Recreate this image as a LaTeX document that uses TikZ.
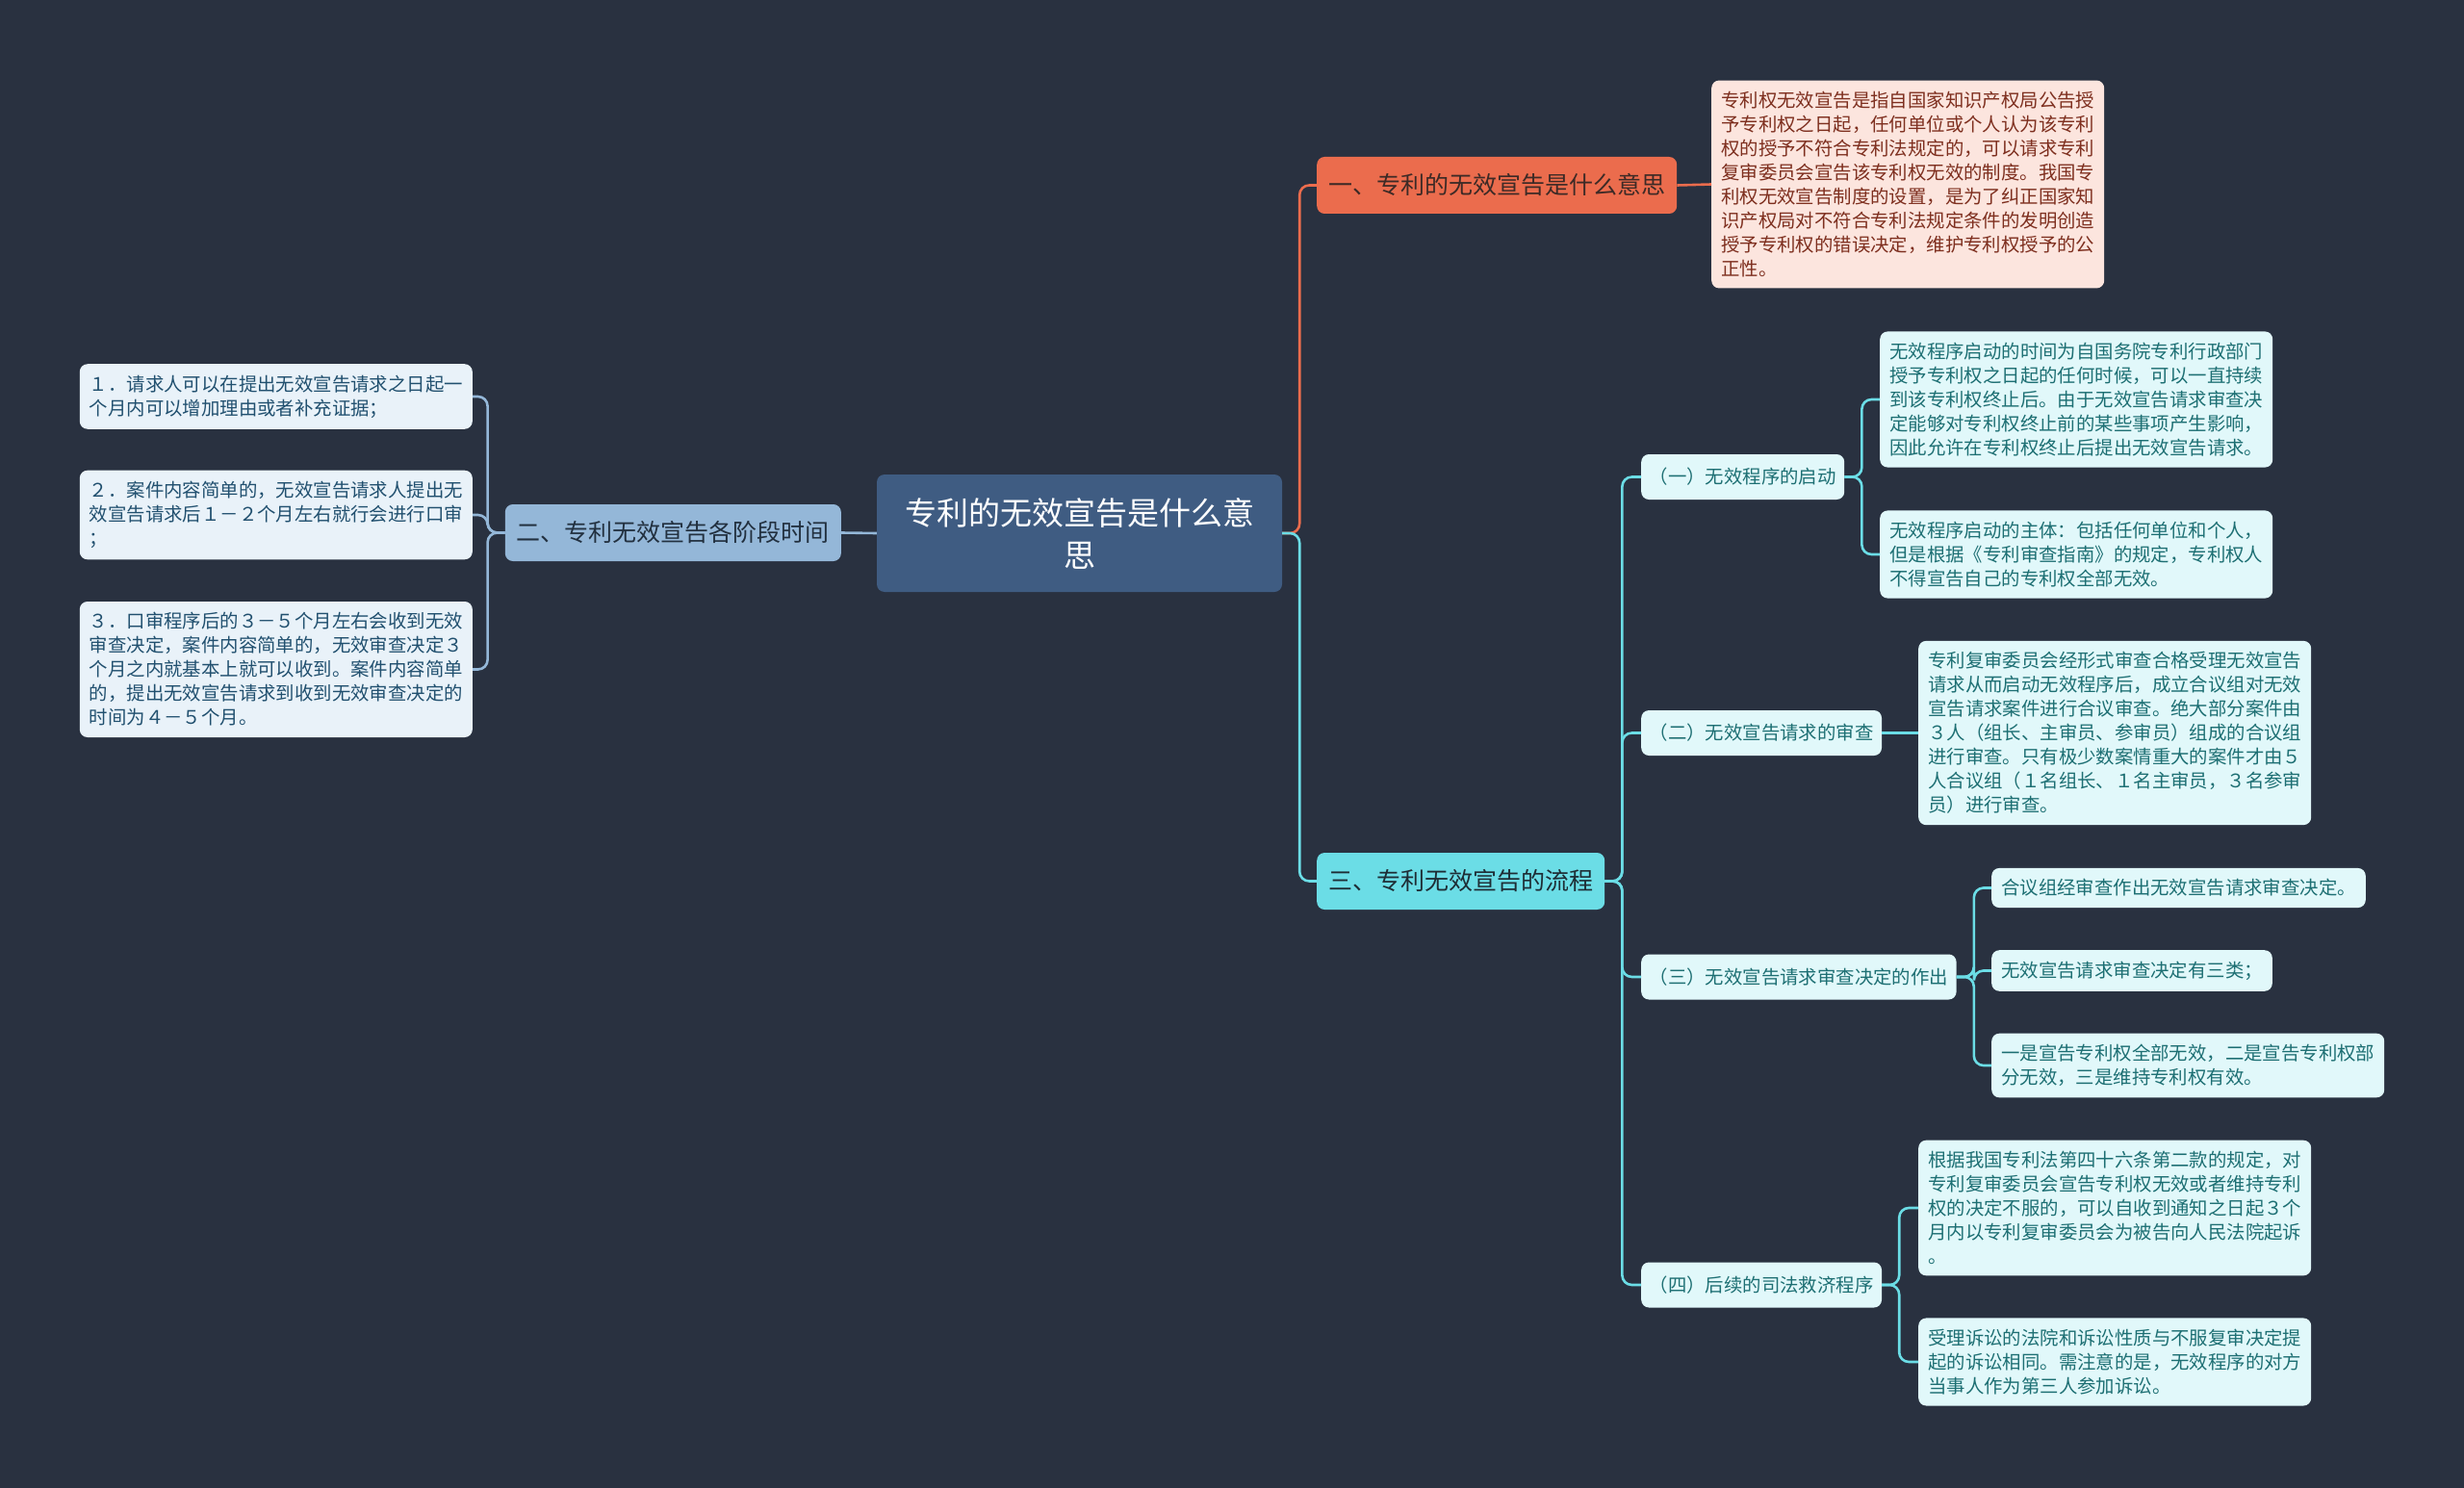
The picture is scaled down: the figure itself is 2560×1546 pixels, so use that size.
\documentclass[tikz,border=0pt]{standalone}
\usepackage{fontspec}
\newfontfamily\cjk{Noto Sans CJK SC}
\usepackage{tikz}
\usepackage{xcolor}
\definecolor{bgcolor}{HTML}{293140}
\definecolor{rootfill}{HTML}{3F5C82}
\definecolor{redfill}{HTML}{EB6C4D}
\definecolor{redtext}{HTML}{3D2A26}
\definecolor{pinkleaf}{HTML}{FCE5DE}
\definecolor{pinktext}{HTML}{7E2F1F}
\definecolor{bluefill}{HTML}{94B7D8}
\definecolor{bluetext}{HTML}{22303F}
\definecolor{blueleaf}{HTML}{E9F2F9}
\definecolor{blueleaftext}{HTML}{21506F}
\definecolor{cyanfill}{HTML}{6BDDE6}
\definecolor{cyandark}{HTML}{1E2D35}
\definecolor{cyanleaf}{HTML}{E1F8FA}
\definecolor{cyantext}{HTML}{1D6F73}

\begin{document}
\begin{tikzpicture}[x=1pt, y=-1pt,
    base/.style={rounded corners=8pt, align=left, font=\cjk\fontsize{19.4}{25}\selectfont},
    rootbox/.style={base, fill=rootfill, text=white, align=center, minimum width=421pt, minimum height=122pt, font=\cjk\fontsize{33}{44}\selectfont},
    topicbox/.style={base, inner xsep=12pt, minimum height=59pt, font=\cjk\fontsize{25}{30}\selectfont},
    subbox/.style={base, fill=cyanleaf, text=cyantext, inner xsep=8.5pt, minimum height=47pt},
    leafbox/.style={base, inner xsep=10pt, inner ysep=11.5pt},
    link/.style={line width=2.6pt, rounded corners=10pt}]
        % Fundo
        \useasboundingbox (0,0) rectangle (2560,1546);
        \fill[bgcolor] (0,0) rectangle (2560,1546);

        % Tema central
        \node[rootbox] (raiz) at (1121.5,554) {专利的无效宣告是什么意\\思};

        % Ramo um
        \node[topicbox, fill=redfill, text=redtext, anchor=west] (t1) at (1368,192.5) {一、专利的无效宣告是什么意思};
        \node[leafbox, fill=pinkleaf, text=pinktext, anchor=west] (t1a) at (1778,191.5) {专利权无效宣告是指自国家知识产权局公告授\\予专利权之日起，任何单位或个人认为该专利\\权的授予不符合专利法规定的，可以请求专利\\复审委员会宣告该专利权无效的制度。我国专\\利权无效宣告制度的设置，是为了纠正国家知\\识产权局对不符合专利法规定条件的发明创造\\授予专利权的错误决定，维护专利权授予的公\\正性。};

        % Ramo dois
        \node[topicbox, fill=bluefill, text=bluetext, anchor=east] (t2) at (874,553.5) {二、专利无效宣告各阶段时间};
        \node[leafbox, fill=blueleaf, text=blueleaftext, anchor=east] (l1) at (491,412) {１．请求人可以在提出无效宣告请求之日起一\\个月内可以增加理由或者补充证据；};
        \node[leafbox, fill=blueleaf, text=blueleaftext, anchor=east] (l2) at (491,535) {２．案件内容简单的，无效宣告请求人提出无\\效宣告请求后１－２个月左右就行会进行口审\\；};
        \node[leafbox, fill=blueleaf, text=blueleaftext, anchor=east] (l3) at (491,695.5) {３．口审程序后的３－５个月左右会收到无效\\审查决定，案件内容简单的，无效审查决定３\\个月之内就基本上就可以收到。案件内容简单\\的，提出无效宣告请求到收到无效审查决定的\\时间为４－５个月。};

        % Ramo tres
        \node[topicbox, fill=cyanfill, text=cyandark, anchor=west] (t3) at (1368,915.5) {三、专利无效宣告的流程};
        \node[subbox, anchor=west] (s1) at (1705,495.5) {（一）无效程序的启动};
        \node[subbox, anchor=west] (s2) at (1705,761.5) {（二）无效宣告请求的审查};
        \node[subbox, anchor=west] (s3) at (1705,1015) {（三）无效宣告请求审查决定的作出};
        \node[subbox, anchor=west] (s4) at (1705,1335) {（四）后续的司法救济程序};

        \node[leafbox, fill=cyanleaf, text=cyantext, anchor=west] (s1a) at (1953,415) {无效程序启动的时间为自国务院专利行政部门\\授予专利权之日起的任何时候，可以一直持续\\到该专利权终止后。由于无效宣告请求审查决\\定能够对专利权终止前的某些事项产生影响，\\因此允许在专利权终止后提出无效宣告请求。};
        \node[leafbox, fill=cyanleaf, text=cyantext, anchor=west] (s1b) at (1953,576) {无效程序启动的主体：包括任何单位和个人，\\但是根据《专利审查指南》的规定，专利权人\\不得宣告自己的专利权全部无效。};
        \node[leafbox, fill=cyanleaf, text=cyantext, anchor=west] (s2a) at (1993,761.5) {专利复审委员会经形式审查合格受理无效宣告\\请求从而启动无效程序后，成立合议组对无效\\宣告请求案件进行合议审查。绝大部分案件由\\３人（组长、主审员、参审员）组成的合议组\\进行审查。只有极少数案情重大的案件才由５\\人合议组（１名组长、１名主审员，３名参审\\员）进行审查。};
        \node[leafbox, fill=cyanleaf, text=cyantext, anchor=west] (s3a) at (2069,922.5) {合议组经审查作出无效宣告请求审查决定。};
        \node[leafbox, fill=cyanleaf, text=cyantext, anchor=west] (s3b) at (2069,1008.5) {无效宣告请求审查决定有三类；};
        \node[leafbox, fill=cyanleaf, text=cyantext, anchor=west] (s3c) at (2069,1107) {一是宣告专利权全部无效，二是宣告专利权部\\分无效，三是维持专利权有效。};
        \node[leafbox, fill=cyanleaf, text=cyantext, anchor=west] (s4a) at (1993,1255) {根据我国专利法第四十六条第二款的规定，对\\专利复审委员会宣告专利权无效或者维持专利\\权的决定不服的，可以自收到通知之日起３个\\月内以专利复审委员会为被告向人民法院起诉\\。};
        \node[leafbox, fill=cyanleaf, text=cyantext, anchor=west] (s4b) at (1993,1415) {受理诉讼的法院和诉讼性质与不服复审决定提\\起的诉讼相同。需注意的是，无效程序的对方\\当事人作为第三人参加诉讼。};

        % Ligacoes
        \draw[link, bluefill] (raiz.west) -- (t2.east);
        \foreach \f in {l1,l2,l3}
            \draw[link, bluefill] (t2.west) -- ++(-18,0) |- (\f.east);
        \draw[link, redfill] (raiz.east) -- ++(18,0) |- (t1.west);
        \draw[link, redfill] (t1.east) -- (t1a.west);
        \draw[link, cyanfill] (raiz.east) -- ++(18,0) |- (t3.west);
        \foreach \f in {s1,s2,s3,s4}
            \draw[link, cyanfill] (t3.east) -- ++(18,0) |- (\f.west);
        \foreach \f in {s1a,s1b}
            \draw[link, cyanfill] (s1.east) -- ++(18,0) |- (\f.west);
        \draw[link, cyanfill] (s2.east) -- (s2a.west);
        \foreach \f in {s3a,s3b,s3c}
            \draw[link, cyanfill] (s3.east) -- ++(18,0) |- (\f.west);
        \foreach \f in {s4a,s4b}
            \draw[link, cyanfill] (s4.east) -- ++(18,0) |- (\f.west);
    \end{tikzpicture}
\end{document}
